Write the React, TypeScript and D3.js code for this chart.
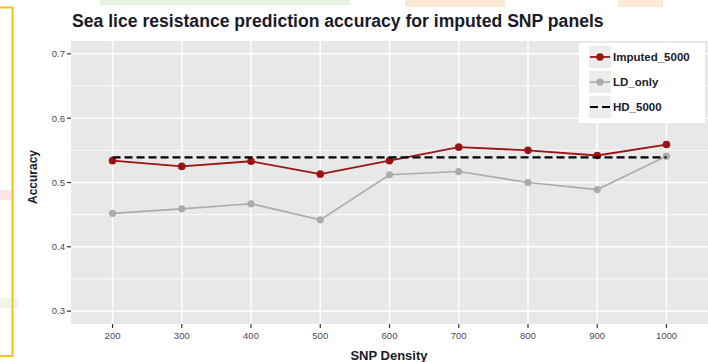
import React from "react";
import * as d3 from "d3";

const densities = ["200", "300", "400", "500", "600", "700", "800", "900", "1000"];
const imputed5000 = [0.534, 0.525, 0.533, 0.513, 0.534, 0.555, 0.55, 0.542, 0.559];
const ldOnly = [0.452, 0.459, 0.467, 0.442, 0.512, 0.517, 0.5, 0.489, 0.541];
const hd5000 = [0.539, 0.539, 0.539, 0.539, 0.539, 0.539, 0.539, 0.539, 0.539];
const yTicks = [0.3, 0.4, 0.5, 0.6, 0.7];
const yMinor = [0.35, 0.45, 0.55, 0.65];
const legendLabels = ["Imputed_5000", "LD_only", "HD_5000"];

const W = 708;
const H = 362;
const panel = { left: 71, right: 708, top: 41, bottom: 324 };
const font = "'Liberation Sans', Arial, sans-serif";

export default function App() {
  const x = d3
    .scalePoint<string>()
    .domain(densities)
    .range([panel.left, panel.right])
    .padding(0.6);
  const y = d3.scaleLinear().domain([0.28, 0.72]).range([panel.bottom, panel.top]);

  const line = d3
    .line<number>()
    .x((_, i) => x(densities[i]) as number)
    .y((d) => y(d));

  const red = "#9b1414";
  const gray = "#ababab";
  const axisText = "#4a4a5a";

  return (
    <svg
      width={W}
      height={H}
      style={{ position: "absolute", left: 0, top: 0, background: "#fff" }}
      fontFamily={font}
    >
      {/* faint background artefacts */}
      <rect x={100} y={0} width={250} height={5} fill="#e8f3e4" />
      <rect x={405} y={0} width={100} height={7} fill="#fbe9d6" />
      <rect x={618} y={0} width={45} height={7} fill="#fbe9d6" />
      <rect x={0} y={190} width={14} height={10} fill="#fbe3e8" />
      <rect x={0} y={298} width={18} height={10} fill="#eef6ea" />
      {/* yellow bracket */}
      <path d="M0,7.5 H12.5 V356 H0" fill="none" stroke="#f7c11a" strokeWidth={2} />

      {/* panel */}
      <rect
        x={panel.left}
        y={panel.top}
        width={panel.right - panel.left}
        height={panel.bottom - panel.top}
        fill="#e8e8e8"
      />
      {yMinor.map((v) => (
        <line key={"mi" + v} x1={panel.left} x2={panel.right} y1={y(v)} y2={y(v)} stroke="#fff" strokeWidth={0.8} />
      ))}
      {yTicks.map((v) => (
        <line key={"ma" + v} x1={panel.left} x2={panel.right} y1={y(v)} y2={y(v)} stroke="#fff" strokeWidth={1.5} />
      ))}
      {densities.map((d) => (
        <line key={"vx" + d} x1={x(d)} x2={x(d)} y1={panel.top} y2={panel.bottom} stroke="#fff" strokeWidth={1.5} />
      ))}

      {/* series */}
      <path d={line(ldOnly) || ""} fill="none" stroke={gray} strokeWidth={1.6} />
      {ldOnly.map((v, i) => (
        <circle key={"ld" + i} cx={x(densities[i])} cy={y(v)} r={3.6} fill={gray} />
      ))}
      <path d={line(imputed5000) || ""} fill="none" stroke={red} strokeWidth={1.8} />
      {imputed5000.map((v, i) => (
        <circle key={"im" + i} cx={x(densities[i])} cy={y(v)} r={3.8} fill={red} />
      ))}
      <path d={line(hd5000) || ""} fill="none" stroke="#000" strokeWidth={2.2} strokeDasharray="8,4" />

      {/* y axis */}
      {yTicks.map((v) => (
        <g key={"yt" + v}>
          <line x1={panel.left - 4} x2={panel.left} y1={y(v)} y2={y(v)} stroke="#333" strokeWidth={1.2} />
          <text x={panel.left - 6} y={y(v)} dy="0.35em" textAnchor="end" fontSize={9.5} fill={axisText}>
            {v.toFixed(1)}
          </text>
        </g>
      ))}
      {/* x axis */}
      {densities.map((d) => (
        <g key={"xt" + d}>
          <line x1={x(d)} x2={x(d)} y1={panel.bottom} y2={panel.bottom + 4} stroke="#333" strokeWidth={1.2} />
          <text x={x(d)} y={panel.bottom + 15} textAnchor="middle" fontSize={9.5} fill={axisText}>
            {d}
          </text>
        </g>
      ))}

      <text x={389} y={360} textAnchor="middle" fontSize={13} fontWeight="bold" fill="#1a1a2a">
        SNP Density
      </text>
      <text
        transform="translate(37,177) rotate(-90)"
        textAnchor="middle"
        fontSize={12}
        fontWeight="bold"
        fill="#1a1a2a"
      >
        Accuracy
      </text>
      <text x={72} y={27} fontSize={17.6} fontWeight="bold" fill="#1a1a2a">
        Sea lice resistance prediction accuracy for imputed SNP panels
      </text>

      {/* legend */}
      <rect x={579} y={43} width={126} height={80} fill="#fff" />
      {legendLabels.map((lab, i) => {
        const cy = 57 + i * 25;
        return (
          <g key={lab}>
            <rect x={589} y={cy - 11} width={22} height={22} fill="#ececec" />
            {i === 0 && (
              <g>
                <line x1={590} x2={610} y1={cy} y2={cy} stroke={red} strokeWidth={1.8} />
                <circle cx={600} cy={cy} r={3.8} fill={red} />
              </g>
            )}
            {i === 1 && (
              <g>
                <line x1={590} x2={610} y1={cy} y2={cy} stroke={gray} strokeWidth={1.6} />
                <circle cx={600} cy={cy} r={3.6} fill={gray} />
              </g>
            )}
            {i === 2 && (
              <line x1={590} x2={610} y1={cy} y2={cy} stroke="#000" strokeWidth={2.2} strokeDasharray="8,4" />
            )}
            <text x={613} y={cy} dy="0.35em" fontSize={11.5} fontWeight="bold" fill="#1a1a2a">
              {lab}
            </text>
          </g>
        );
      })}
    </svg>
  );
}
